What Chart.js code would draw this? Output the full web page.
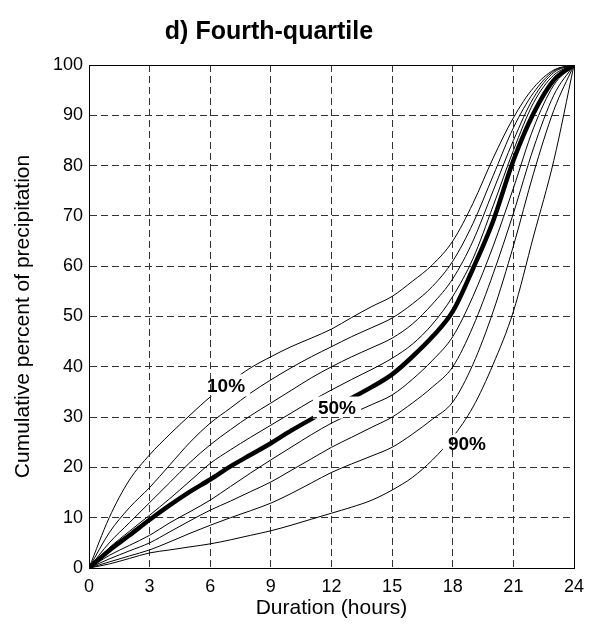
<!DOCTYPE html>
<html>
<head>
<meta charset="utf-8">
<script src="https://cdn.jsdelivr.net/npm/chart.js@4.4.0/dist/chart.umd.min.js"></script>
<style>
  html, body { margin: 0; padding: 0; background: #fff; }
  #wrap { width: 598px; height: 632px; }
</style>
</head>
<body>
<div id="wrap"><canvas id="chart" width="598" height="632"></canvas></div>
<script>
// Duration (hours)
const hours = [0, 1, 2, 3, 4, 5, 6, 7, 8, 9, 10, 11, 12, 13, 14, 15, 16, 17, 18, 19, 20, 21, 22, 23, 24];

// Cumulative percent of precipitation, one curve per probability level
const p10 = [0, 10, 17.5, 22.5, 26.6, 30.4, 34, 37, 39.8, 42, 44, 45.7, 47.5, 49.8, 52, 54, 57, 60.3, 65, 72.5, 81.5, 89.5, 95.5, 99, 100];
const p20 = [0, 7, 12, 16, 20.5, 25, 28.8, 31.8, 34.8, 37.4, 39.8, 42, 44, 46, 47.8, 49.7, 52.5, 56, 61, 68.5, 78, 87.5, 94.5, 98.8, 100];
const p30 = [0, 5, 9, 13, 17, 21, 24.5, 27.5, 30.3, 32.8, 35.3, 37.8, 40, 42, 43.8, 45.7, 48.5, 52.5, 57.5, 65, 75, 85, 93.5, 98.5, 100];
const p40 = [0, 4, 7.3, 10.5, 13.8, 17.3, 20.8, 23.5, 26, 28.4, 30.8, 33.2, 35.4, 37.5, 39.5, 41.7, 44.5, 48.5, 54, 61.5, 72, 83, 92.5, 98, 100];
const p50 = [0, 3.5, 6.5, 9.6, 12.5, 15.2, 17.6, 20.2, 22.5, 24.8, 27.3, 29.6, 31.8, 33.8, 36, 38.5, 42, 46, 51, 59.5, 69, 81, 90.4, 97, 100];
const p60 = [0, 2.5, 4.5, 6.5, 9, 11.2, 13.5, 16.2, 18.9, 21.5, 24, 26.5, 28.8, 30.7, 32.5, 34.4, 37.5, 41.3, 46, 54, 64, 75.5, 87.5, 96, 100];
const p70 = [0, 1.8, 3.4, 5, 7.2, 9.4, 11.5, 13.3, 15.2, 17.1, 19.4, 21.7, 24, 26, 28, 30, 32.8, 36, 40, 48, 58.5, 70.5, 83.5, 94, 100];
const p80 = [0, 1.2, 2.4, 3.6, 5.2, 6.9, 8.5, 10, 11.4, 12.9, 14.8, 16.9, 19, 20.7, 22.3, 24, 26.6, 29.6, 33, 40.5, 51, 64, 78.5, 91, 100];
const p90 = [0, 0.8, 1.9, 3, 3.6, 4.2, 4.8, 5.6, 6.5, 7.4, 8.5, 9.7, 10.9, 12.1, 13.5, 15.5, 18, 21.5, 26, 32, 40.5, 51, 66, 81, 100];

const seriesNames = ['10%', '20%', '30%', '40%', '50%', '60%', '70%', '80%', '90%'];
const seriesValues = [p10, p20, p30, p40, p50, p60, p70, p80, p90];

// in-plot curve labels (text, hour, percent)
const curveLabels = ['10%', '50%', '90%'];
const curveLabelHours = [6.78, 12.27, 18.7];
const curveLabelValues = [36.3, 31.9, 24.6];

const xTicks = [0, 3, 6, 9, 12, 15, 18, 21, 24];

const FONT = "'Liberation Sans', Arial, Helvetica, sans-serif";

const datasets = seriesValues.map((vals, i) => ({
    label: seriesNames[i],
    data: hours.map((h, j) => ({ x: h, y: vals[j] })),
    borderColor: '#000',
    borderWidth: seriesNames[i] === '50%' ? 4.5 : 1,
    pointRadius: 0,
    fill: false,
    cubicInterpolationMode: 'monotone'
}));

// frame, titles and curve labels
const decorations = {
    id: 'decorations',
    afterDatasetsDraw(chart) {
        const { ctx, chartArea: a, scales } = chart;

        // curve labels with a white gap behind them
        ctx.save();
        ctx.font = 'bold 19px ' + FONT;
        ctx.textAlign = 'center';
        ctx.textBaseline = 'middle';
        curveLabels.forEach((txt, i) => {
            const px = scales.x.getPixelForValue(curveLabelHours[i]);
            const py = scales.y.getPixelForValue(curveLabelValues[i]);
            const w = ctx.measureText(txt).width + 10;
            const h = 22;
            ctx.save();
            ctx.fillStyle = '#fff';
            ctx.fillRect(px - w / 2, py - h / 2, w, h);
            // restore the dashed grid under the gap
            ctx.beginPath();
            ctx.rect(px - w / 2, py - h / 2, w, h);
            ctx.clip();
            scales.x.drawGrid(a);
            scales.y.drawGrid(a);
            ctx.restore();
            ctx.fillStyle = '#000';
            ctx.fillText(txt, px, py + 1);
        });
        ctx.restore();

        // box around the plot
        ctx.save();
        ctx.strokeStyle = '#000';
        ctx.lineWidth = 1;
        ctx.strokeRect(Math.round(a.left) + 0.5, Math.round(a.top) + 0.5,
            Math.round(a.right - a.left), Math.round(a.bottom - a.top));
        ctx.restore();

        // title
        ctx.save();
        ctx.fillStyle = '#000';
        ctx.textAlign = 'center';
        ctx.textBaseline = 'alphabetic';
        ctx.font = 'bold 25px ' + FONT;
        ctx.fillText('d) Fourth-quartile', 269, 39);

        // axis titles
        ctx.font = '21px ' + FONT;
        ctx.fillText('Duration (hours)', (a.left + a.right) / 2, 614);
        ctx.translate(29, (a.top + a.bottom) / 2);
        ctx.rotate(-Math.PI / 2);
        ctx.fillText('Cumulative percent of precipitation', 0, 0);
        ctx.restore();
    }
};

new Chart(document.getElementById('chart'), {
    type: 'line',
    data: { datasets: datasets },
    options: {
        responsive: false,
        animation: false,
        events: [],
        layout: { padding: { left: 0, top: 65, right: 24, bottom: 0 } },
        plugins: {
            legend: { display: false },
            tooltip: { enabled: false },
            title: { display: false }
        },
        scales: {
            x: {
                type: 'linear',
                min: 0,
                max: 24,
                afterFit(scale) { scale.height = 64; },
                afterBuildTicks(scale) { scale.ticks = xTicks.map(v => ({ value: v })); },
                grid: { color: '#333', lineWidth: 1, drawTicks: false },
                border: { display: true, color: '#000', width: 1, dash: [7, 4] },
                ticks: {
                    color: '#000',
                    font: { family: FONT, size: 18 },
                    padding: 8,
                    maxRotation: 0
                }
            },
            y: {
                min: 0,
                max: 100,
                afterFit(scale) { scale.width = 89; },
                grid: { color: '#333', lineWidth: 1, drawTicks: false },
                border: { display: true, color: '#000', width: 1, dash: [7, 4] },
                ticks: {
                    stepSize: 10,
                    color: '#000',
                    font: { family: FONT, size: 18 },
                    padding: 6
                }
            }
        }
    },
    plugins: [decorations]
});
</script>
</body>
</html>
